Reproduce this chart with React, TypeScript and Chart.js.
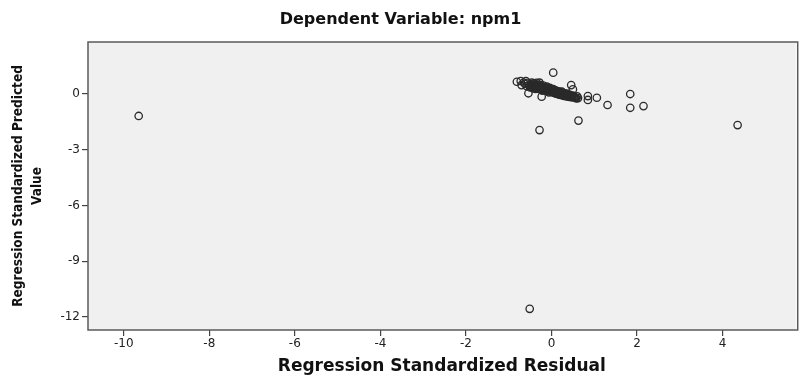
import React, { useEffect, useRef } from 'react';
import { Chart, registerables } from 'chart.js';

Chart.register(...registerables);

const chartTitle = 'Dependent Variable: npm1';
const xAxisTitle = 'Regression Standardized Residual';
const yAxisTitle = ['Regression Standardized Predicted', 'Value'];
const xTickValues = [-10, -8, -6, -4, -2, 0, 2, 4];
const yTickValues = [-12, -9, -6, -3, 0];

// Regression Standardized Residual (x) for each case
const residuals = [
  -9.65, -0.51, 4.35, -0.28, 0.63, 1.31, 1.84, 1.84, 2.15, 1.06, 0.85, 0.85,
  0.04, -0.81, -0.7, -0.54, -0.23, -0.28, 0.46, 0.5, 0.58,
  -0.62, -0.58, -0.55, -0.52, -0.5, -0.48, -0.45, -0.43, -0.42, -0.4, -0.38, -0.36,
  -0.35, -0.33, -0.31, -0.3, -0.28, -0.27, -0.25, -0.24, -0.22, -0.2, -0.19, -0.17,
  -0.16, -0.14, -0.13, -0.11, -0.1, -0.08, -0.07, -0.05, -0.04, -0.02, 0.0, 0.01,
  0.03, 0.04, 0.06, 0.08, 0.09, 0.11, 0.13, 0.14, 0.16, 0.18, 0.19, 0.21,
  0.23, 0.25, 0.27, 0.29, 0.31, 0.33, 0.35, 0.37, 0.39, 0.41, 0.43, 0.45,
  0.48, 0.5, 0.53, 0.56, 0.6, 0.62, -0.65, -0.72, -0.6, -0.46, -0.35,
  -0.47, -0.44, -0.41, -0.39, -0.37, -0.34, -0.32, -0.29, -0.26, -0.23, -0.21, -0.18,
  -0.15, -0.12, -0.09, -0.06, -0.03, -0.01, 0.02, 0.05, 0.07, 0.1, 0.12, 0.15,
  0.17, 0.2, 0.22, 0.24, 0.26, 0.28, 0.3, 0.32, 0.34, 0.36, 0.38, 0.4,
  0.44, 0.47, 0.52, 0.55,
];

// Regression Standardized Predicted Value (y) for each case
const predicted = [
  -1.18, -11.56, -1.67, -1.94, -1.43, -0.59, 0.0, -0.74, -0.65, -0.2, -0.32, -0.11,
  1.15, 0.66, 0.48, 0.04, -0.14, 0.61, 0.48, 0.25, -0.23,
  0.55, 0.42, 0.6, 0.48, 0.35, 0.52, 0.44, 0.3, 0.58, 0.4, 0.47, 0.33,
  0.52, 0.38, 0.45, 0.28, 0.41, 0.5, 0.34, 0.22, 0.39, 0.3, 0.45, 0.26,
  0.36, 0.19, 0.31, 0.4, 0.24, 0.15, 0.29, 0.2, 0.33, 0.12, 0.24, 0.17,
  0.08, 0.27, 0.14, 0.05, 0.2, 0.1, 0.01, 0.16, 0.06, -0.03, 0.12, 0.02,
  -0.06, 0.07, -0.02, -0.1, 0.04, -0.06, -0.13, 0.01, -0.09, -0.15, -0.04, -0.12,
  -0.18, -0.08, -0.16, -0.2, -0.12, -0.22, 0.62, 0.7, 0.7, 0.62, 0.6,
  0.38, 0.5, 0.36, 0.49, 0.27, 0.42, 0.33, 0.47, 0.29, 0.41, 0.18, 0.35,
  0.27, 0.22, 0.34, 0.09, 0.26, 0.19, 0.21, 0.11, 0.18, 0.03, 0.13, 0.09,
  0.0, 0.1, 0.04, 0.13, -0.05, 0.05, -0.08, 0.0, -0.03, -0.1, -0.01, -0.12,
  -0.09, -0.14, -0.12, -0.19,
];

const WIDE = '"DejaVu Sans", Verdana, sans-serif';
const NARROW = '"DejaVu Sans Condensed", "Liberation Sans Narrow", "Arial Narrow", sans-serif';

const plotFrame = {
  id: 'plotFrame',
  beforeDraw(chart: any) {
    const { ctx, chartArea: a } = chart;
    ctx.save();
    ctx.fillStyle = '#ffffff';
    ctx.fillRect(0, 0, chart.width, chart.height);
    ctx.fillStyle = '#f0f0f0';
    ctx.fillRect(a.left, a.top, a.right - a.left, a.bottom - a.top);
    ctx.restore();
  },
  afterDraw(chart: any) {
    const { ctx, chartArea: a } = chart;
    ctx.save();
    ctx.strokeStyle = '#5a5a5a';
    ctx.lineWidth = 1.5;
    ctx.strokeRect(a.left, a.top, a.right - a.left + 2, a.bottom - a.top);
    ctx.restore();
  },
};

export default function App() {
  const ref = useRef<HTMLCanvasElement | null>(null);

  useEffect(() => {
    if (!ref.current) return;
    const points = residuals.map((x, i) => ({ x, y: predicted[i] }));
    const chart = new Chart(ref.current, {
      type: 'scatter',
      data: {
        datasets: [
          {
            data: points,
            pointStyle: 'circle',
            pointRadius: 3.7,
            pointBorderWidth: 1.3,
            borderColor: '#2a2a2a',
            backgroundColor: 'rgba(0,0,0,0)',
          },
        ],
      },
      options: {
        responsive: false,
        animation: false,
        layout: { padding: 0 },
        plugins: {
          legend: { display: false },
          tooltip: { enabled: false },
          title: {
            display: true,
            text: chartTitle,
            color: '#111',
            font: { family: WIDE, size: 16, weight: 'bold', lineHeight: 1.2 },
            padding: { top: 10, bottom: 12.8 },
          },
        },
        scales: {
          x: {
            type: 'linear',
            min: -10.835,
            max: 5.708,
            afterBuildTicks: (s: any) => {
              s.ticks = xTickValues.map((v) => ({ value: v }));
            },
            afterFit: (s: any) => {
              s.height = 47;
            },
            border: { display: false },
            grid: { drawOnChartArea: false, drawTicks: true, tickLength: 6, color: '#444', lineWidth: 1.2 },
            ticks: { color: '#222', font: { family: WIDE, size: 12 }, padding: 1, maxRotation: 0, autoSkip: false },
            title: {
              display: true,
              text: xAxisTitle,
              color: '#111',
              font: { family: WIDE, size: 17, weight: 'bold', lineHeight: 1.2 },
              padding: { top: 0, bottom: 0 },
            },
          },
          y: {
            type: 'linear',
            min: -12.7,
            max: 2.8,
            afterBuildTicks: (s: any) => {
              s.ticks = yTickValues.map((v) => ({ value: v }));
            },
            afterFit: (s: any) => {
              s.width = 88;
            },
            border: { display: false },
            grid: { drawOnChartArea: false, drawTicks: true, tickLength: 6, color: '#444', lineWidth: 1.2 },
            ticks: { color: '#222', font: { family: WIDE, size: 12 }, padding: 2, autoSkip: false },
            title: {
              display: true,
              text: yAxisTitle,
              color: '#111',
              font: { family: NARROW, size: 13.5, weight: 'bold', lineHeight: 1.4 },
              padding: { top: 9, bottom: 0 },
            },
          },
        },
      },
      plugins: [plotFrame],
    });
    return () => chart.destroy();
  }, []);

  return (
    <div style={{ position: 'absolute', left: 0, top: 0, width: 801, height: 377 }}>
      <canvas ref={ref} width={801} height={377} style={{ display: 'block' }} />
    </div>
  );
}
